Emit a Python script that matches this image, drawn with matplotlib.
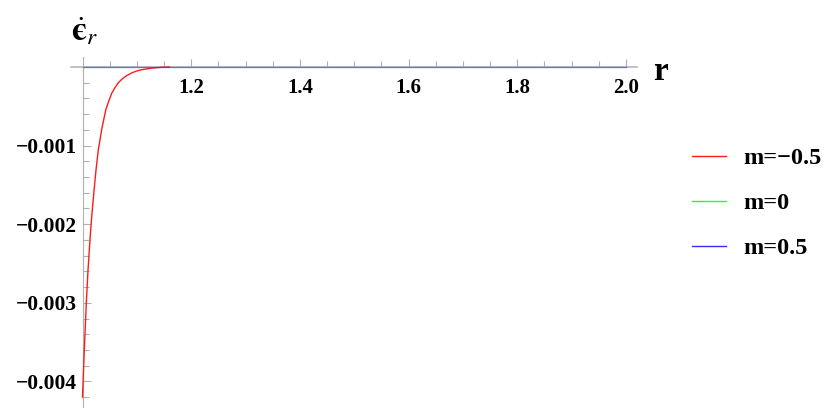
import matplotlib
matplotlib.use("Agg")
import matplotlib.pyplot as plt
from matplotlib.ticker import FixedLocator

# data
r_red = [1.000, 1.003, 1.007, 1.010, 1.013, 1.0155, 1.017, 1.0215, 1.025, 1.029, 1.0357,
         1.043, 1.048, 1.054, 1.060, 1.066, 1.0725, 1.080, 1.091, 1.100, 1.110, 1.119,
         1.130, 1.143, 1.16]
eps_red = [-0.0042, -0.00365, -0.0030, -0.0026, -0.00228, -0.00203, -0.0019, -0.00155,
           -0.0013, -0.00106, -0.00078, -0.00054, -0.00044, -0.00033, -0.00026, -0.00020,
           -0.000155, -0.000115, -0.000074, -0.00005, -0.000033, -0.000023, -0.000013,
           -0.000005, 0.0]
r_flat = [1.0, 2.0]
eps_green = [0.0, 0.0]
eps_blue = [0.0, 0.0]
labels = ["m=\u22120.5", "m=0", "m=0.5"]
xticks = [1.2, 1.4, 1.6, 1.8, 2.0]
xticklabels = ["1.2", "1.4", "1.6", "1.8", "2.0"]
yticks = [-0.001, -0.002, -0.003, -0.004]
yticklabels = ["\u22120.001", "\u22120.002", "\u22120.003", "\u22120.004"]

plt.rcParams['font.family'] = ['Liberation Serif', 'DejaVu Serif']
plt.rcParams['mathtext.fontset'] = 'stix'

W, H = 834, 420
fig = plt.figure(figsize=(W / 100, H / 100), dpi=100)
left, right, top, bottom = 71, 637, 57, 407
ax = fig.add_axes([left / W, 1 - bottom / H, (right - left) / W, (bottom - top) / H])

x0_px, x1_px = 82.5, 626.0
sx = (x1_px - x0_px) / 1.0
ax.set_xlim(1.0 - (x0_px - left) / sx, 2.0 + (right - x1_px) / sx)
y0_px = 67.0
sy = 78.6 / 0.001
ax.set_ylim(-(bottom - y0_px) / sy, (y0_px - top) / sy)

l1, = ax.plot(r_red, eps_red, color='#ff1a1a', lw=1.0, zorder=3)
l2, = ax.plot(r_flat, eps_green, color='#22ff22', lw=0.6, zorder=1)
l3, = ax.plot(r_flat, eps_blue, color='#3030ff', lw=1.0, zorder=5, alpha=0.5)

for s in ['top', 'right']:
    ax.spines[s].set_visible(False)
ax.spines['left'].set_position(('data', 1.0))
ax.spines['bottom'].set_position(('data', 0.0))
for s in ['left', 'bottom']:
    ax.spines[s].set_color('#b0b0b0')
    ax.spines[s].set_linewidth(0.8)
ax.spines['bottom'].set_linewidth(1.1)

ax.xaxis.set_major_locator(FixedLocator(xticks))
ax.set_xticklabels(xticklabels)
ax.xaxis.set_minor_locator(FixedLocator([1.05, 1.10, 1.15, 1.25, 1.30, 1.35, 1.45, 1.50, 1.55,
                                         1.65, 1.70, 1.75, 1.85, 1.90, 1.95]))
ax.yaxis.set_major_locator(FixedLocator(yticks))
ax.set_yticklabels(yticklabels)
ax.yaxis.set_minor_locator(FixedLocator([-0.0002, -0.0004, -0.0006, -0.0008, -0.0012, -0.0014,
                                         -0.0016, -0.0018, -0.0022, -0.0024, -0.0026, -0.0028,
                                         -0.0032, -0.0034, -0.0036, -0.0038, -0.0042]))
ax.tick_params(which='both', direction='in', color='#b0b0b0', width=0.8)
ax.tick_params(which='major', length=6)
ax.tick_params(which='minor', length=4)
ax.tick_params(axis='x', which='major', pad=8, labelsize=15)
ax.tick_params(axis='y', which='major', pad=4, labelsize=15.5)
for t in ax.get_xticklabels() + ax.get_yticklabels():
    t.set_fontweight('bold')

fig.text(71 / W, 1 - 32 / H, '$\\dot{\\mathbf{\u03f5}}_{r}$', fontsize=24,
         ha='left', va='center')
fig.text(653 / W, 1 - 72 / H, 'r', fontsize=24, fontweight='bold', ha='left', va='center')

leg = fig.legend([l1, l2, l3], labels, loc='upper left',
                 bbox_to_anchor=(692 / W, 1 - 147 / H), frameon=False,
                 borderpad=0, borderaxespad=0,
                 prop={'family': 'Liberation Serif', 'weight': 'bold', 'size': 17.5},
                 handlelength=1.4, handletextpad=0.7, labelspacing=0.95)
for h in leg.legend_handles:
    h.set_alpha(1.0)
    h.set_linewidth(1.0)

fig.savefig('out.png', dpi=100)
